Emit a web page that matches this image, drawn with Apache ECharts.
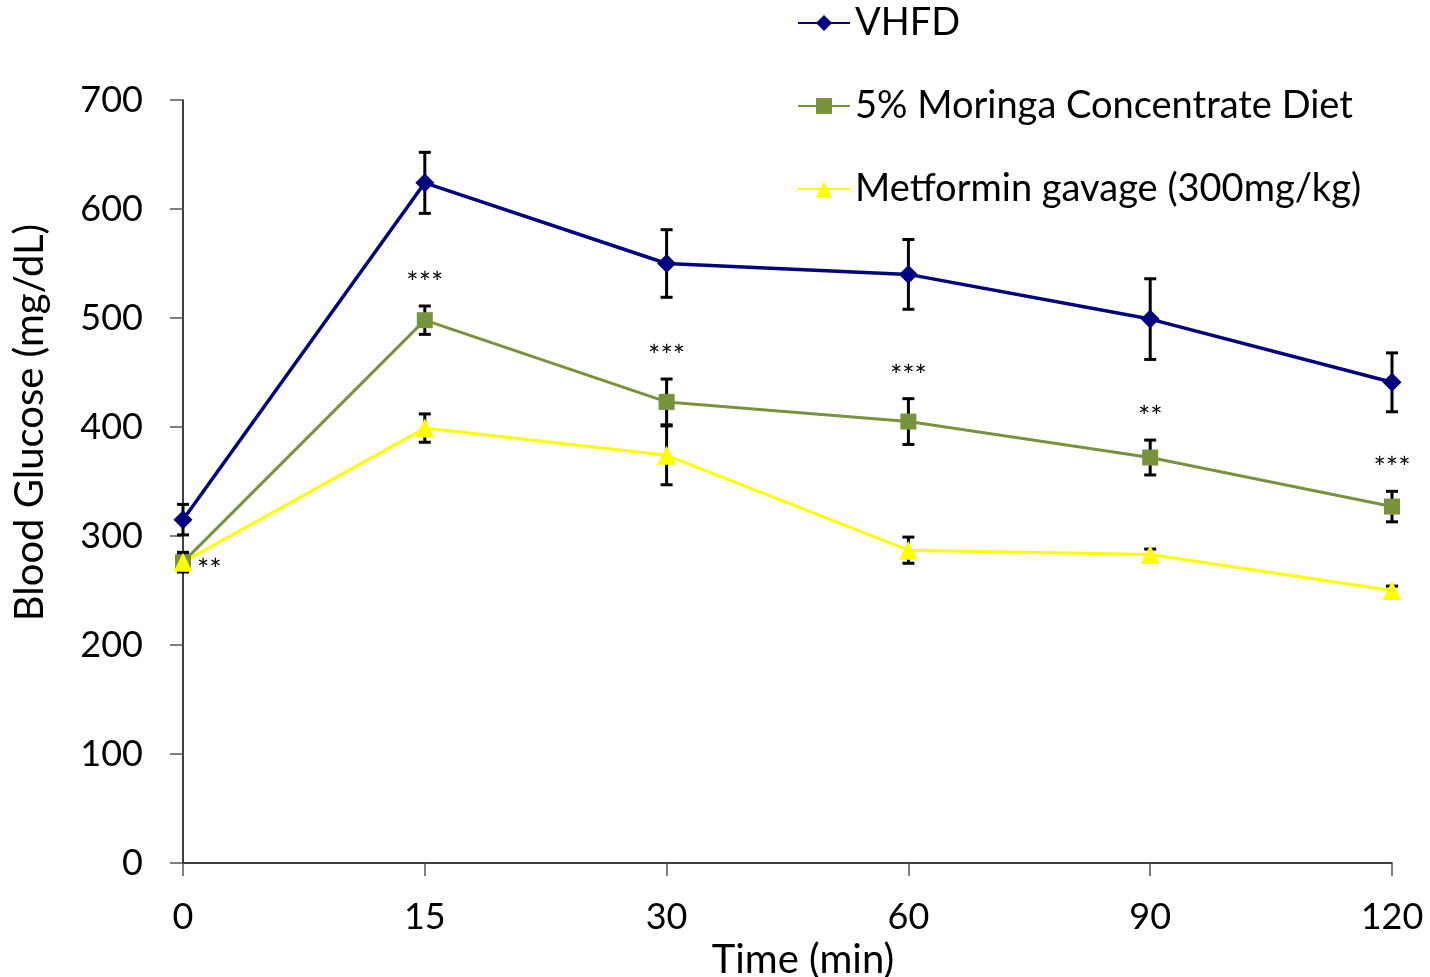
<!DOCTYPE html>
<html>
<head>
<meta charset="utf-8">
<script src="https://cdn.jsdelivr.net/npm/echarts@6/dist/echarts.min.js"></script>
<style>
  html, body { margin: 0; padding: 0; background: #fff; }
  #chart { width: 1430px; height: 977px; }
</style>
</head>
<body>
<div id="chart"></div>
<script>
// time points (min)
var times = ['0', '15', '30', '60', '90', '120'];

// mean blood glucose per group
var vhfd = [315, 624, 550, 540, 499, 441];
var moringa = [276, 498, 423, 405, 372, 327];
var metformin = [276, 399, 374, 287, 283, 250];

// error bar half widths
var vhfdErr = [14, 28, 31, 32, 37, 27];
var moringaErr = [9, 13, 21, 21, 16, 14];
var metforminErr = [8, 13, 27, 12, 5, 4];

// significance marks, moringa vs VHFD
var signif = ['**', '***', '***', '***', '**', '***'];

var names = ['VHFD', '5% Moringa Concentrate Diet', 'Metformin gavage (300mg/kg)'];
var colors = ['#000080', '#77933C', '#FFFF00'];
var font = 'Lato';

function errData(vals, errs) {
    return vals.map(function (v, i) { return [i, v, errs[i]]; });
}

function renderErr(params, api) {
    var x = api.value(0), v = api.value(1), e = api.value(2);
    var top = api.coord([x, v + e]);
    var bot = api.coord([x, v - e]);
    var cap = 6;
    var style = { stroke: '#000', lineWidth: 3 };
    return {
        type: 'group',
        children: [
            { type: 'line', shape: { x1: top[0], y1: top[1], x2: bot[0], y2: bot[1] }, style: style },
            { type: 'line', shape: { x1: top[0] - cap, y1: top[1], x2: top[0] + cap, y2: top[1] }, style: style },
            { type: 'line', shape: { x1: bot[0] - cap, y1: bot[1], x2: bot[0] + cap, y2: bot[1] }, style: style }
        ]
    };
}

function errSeries(vals, errs) {
    return {
        type: 'custom',
        z: 1,
        silent: true,
        renderItem: renderErr,
        data: errData(vals, errs)
    };
}

var signifData = moringa.map(function (v, i) { return [i, v, moringaErr[i]]; });

var myChart = echarts.init(document.getElementById('chart'));
var option = {
    animation: false,
    textStyle: { fontFamily: font },
    color: colors,
    legend: {
        data: names,
        orient: 'vertical',
        left: 797,
        top: 3,
        padding: 0,
        itemWidth: 52,
        itemHeight: 20,
        itemGap: 43,
        textStyle: { fontFamily: font, fontSize: 38, lineHeight: 40, color: '#000' }
    },
    grid: { left: 183, right: 38, top: 100, bottom: 114, outerBoundsMode: 'none', containLabel: false },
    xAxis: {
        type: 'category',
        data: times,
        boundaryGap: false,
        name: 'Time (min)',
        nameLocation: 'middle',
        nameGap: 75,
        nameTextStyle: { fontFamily: font, fontSize: 40, color: '#000', padding: [0, 0, 0, 31] },
        axisLine: { lineStyle: { color: '#000', width: 1.5 } },
        axisTick: { show: true, length: 13, inside: false, alignWithLabel: true, lineStyle: { color: '#555', width: 1.5 } },
        axisLabel: { fontFamily: font, fontSize: 36, color: '#000', margin: 36 },
        splitLine: { show: false }
    },
    yAxis: {
        type: 'value',
        min: 0,
        max: 700,
        interval: 100,
        name: 'Blood Glucose (mg/dL)',
        nameLocation: 'middle',
        nameGap: 133,
        nameTextStyle: { fontFamily: font, fontSize: 40, color: '#000', padding: [0, 0, 0, 118] },
        axisLine: { show: true, lineStyle: { color: '#000', width: 1.5 } },
        axisTick: { show: true, length: 13, lineStyle: { color: '#555', width: 1.5 } },
        axisLabel: { fontFamily: font, fontSize: 36, color: '#000', margin: 40 },
        splitLine: { show: false }
    },
    series: [
        errSeries(vhfd, vhfdErr),
        errSeries(moringa, moringaErr),
        errSeries(metformin, metforminErr),
        {
            name: names[0],
            type: 'line',
            data: vhfd,
            z: 3,
            symbol: 'diamond',
            symbolSize: 19,
            lineStyle: { color: colors[0], width: 3.5 },
            itemStyle: { color: colors[0] }
        },
        {
            name: names[1],
            type: 'line',
            data: moringa,
            z: 3,
            symbol: 'rect',
            symbolSize: 16,
            lineStyle: { color: colors[1], width: 3 },
            itemStyle: { color: colors[1] }
        },
        {
            name: names[2],
            type: 'line',
            data: metformin,
            z: 3,
            symbol: 'triangle',
            symbolSize: 19,
            lineStyle: { color: colors[2], width: 3 },
            itemStyle: { color: colors[2] }
        },
        {
            type: 'custom',
            z: 4,
            silent: true,
            data: signifData,
            renderItem: function (params, api) {
                var i = api.value(0);
                var v = api.value(1), e = api.value(2);
                var txt = signif[params.dataIndex];
                var pos, align, vAlign;
                if (i === 0) {
                    pos = api.coord([i, v]);
                    pos = [pos[0] + 14, pos[1] + 8];
                    align = 'left';
                    vAlign = 'middle';
                } else {
                    pos = api.coord([i, v + e]);
                    pos = [pos[0], pos[1] - 8];
                    align = 'center';
                    vAlign = 'bottom';
                }
                return {
                    type: 'text',
                    x: pos[0],
                    y: pos[1],
                    style: {
                        text: txt,
                        fill: '#000',
                        font: '29px ' + font,
                        align: align,
                        verticalAlign: vAlign
                    }
                };
            }
        }
    ]
};
myChart.setOption(option, true);
window.addEventListener('resize', function () {
    myChart.resize();
});
</script>
</body>
</html>
